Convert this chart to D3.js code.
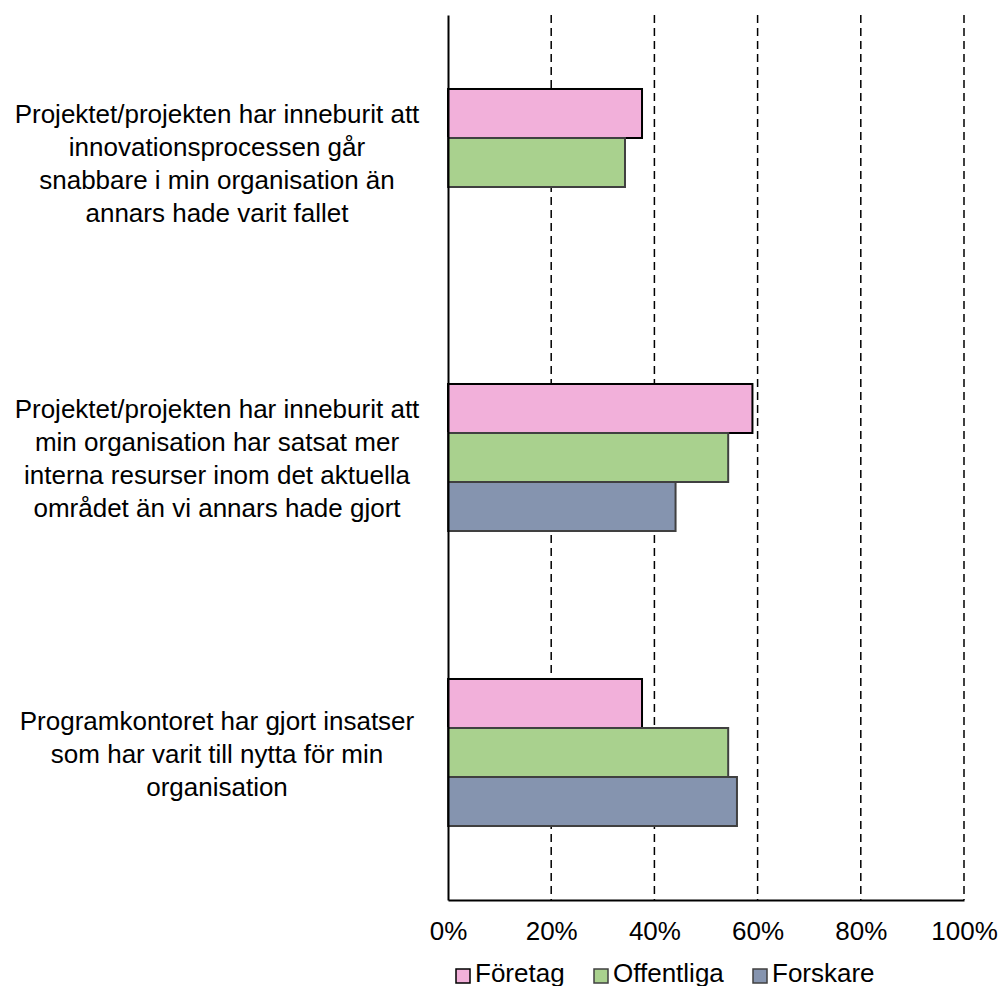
<!DOCTYPE html>
<html>
<head>
  <meta charset="UTF-8">
  <title>Horizontal grouped bars</title>
  <script src="https://d3js.org/d3.v7.min.js"></script>
  <style>
    body { margin: 0; background: #fff; }
    text { font-family: "Liberation Sans", Arial, sans-serif; fill: #000; }
  </style>
</head>
<body>
  <svg width="1002" height="986"></svg>

  <script>
    // Data
    const categories = [
      ["Projektet/projekten har inneburit att", "innovationsprocessen går", "snabbare i min organisation än", "annars hade varit fallet"],
      ["Projektet/projekten har inneburit att", "min organisation har satsat mer", "interna resurser inom det aktuella", "området än vi annars hade gjort"],
      ["Programkontoret har gjort insatser", "som har varit till nytta för min", "organisation"]
    ];
    const series = ["Företag", "Offentliga", "Forskare"];
    const foretag = [37.6, 59.0, 37.6];
    const offentliga = [34.3, 54.3, 54.3];
    const forskare = [null, 44.1, 56.0];
    const tickValues = [0, 20, 40, 60, 80, 100];

    const values = [foretag, offentliga, forskare];
    const colors = ["#f2b0da", "#a9d18e", "#8594af"];
    const strokes = ["#000000", "#404040", "#404040"];

    const plotLeft = 448, plotRight = 964, plotTop = 15, plotBottom = 900;

    const svg = d3.select("svg");

    const x = d3.scaleLinear().domain([0, 100]).range([plotLeft, plotRight]);
    const y0 = d3.scaleBand().domain(d3.range(categories.length)).range([plotTop, plotBottom]);
    const y1 = d3.scaleBand().domain(series).range([0, y0.bandwidth()]).paddingOuter(1.51);

    // Dashed gridlines
    svg.append("g")
      .selectAll("line")
      .data(tickValues.filter(d => d > 0))
      .join("line")
      .attr("x1", d => x(d)).attr("x2", d => x(d))
      .attr("y1", plotTop).attr("y2", plotBottom)
      .attr("stroke", "#000")
      .attr("stroke-width", 1.5)
      .attr("stroke-dasharray", "8,5");

    // Bars
    const groups = svg.append("g")
      .selectAll("g")
      .data(categories)
      .join("g")
      .attr("transform", (d, i) => `translate(0,${y0(i)})`);

    groups.each(function(d, i) {
      const g = d3.select(this);
      series.forEach((s, j) => {
        const v = values[j][i];
        if (v == null) return;
        g.append("rect")
          .attr("x", x(0))
          .attr("y", y1(s))
          .attr("width", x(v) - x(0))
          .attr("height", y1.bandwidth())
          .attr("fill", colors[j])
          .attr("stroke", strokes[j])
          .attr("stroke-width", 2);
      });
    });

    // Category labels
    groups.append("text")
      .attr("text-anchor", "middle")
      .style("font-size", "26px")
      .each(function(lines) {
        const t = d3.select(this);
        const lh = 33;
        const c = y0.bandwidth() / 2;
        const start = c - (lines.length - 1) * lh / 2 + 10;
        lines.forEach((l, k) => {
          t.append("tspan").attr("x", 217).attr("y", start + k * lh).text(l);
        });
      });

    // Axes
    const xAxis = d3.axisBottom(x)
      .tickValues(tickValues)
      .tickSize(0)
      .tickPadding(22)
      .tickFormat(d => d + "%");

    const ax = svg.append("g")
      .attr("transform", `translate(0,${plotBottom})`)
      .call(xAxis);
    ax.select(".domain").attr("stroke", "#000").attr("stroke-width", 2);
    ax.selectAll("text")
      .style("font-size", "26px")
      .style("font-family", "'Liberation Sans', Arial, sans-serif")
      .attr("fill", "#000");

    const yAxis = d3.axisLeft(y0).tickSize(0).tickFormat("");
    const ay = svg.append("g")
      .attr("transform", `translate(${plotLeft},0)`)
      .call(yAxis);
    ay.select(".domain").attr("stroke", "#000").attr("stroke-width", 2);

    // Legend
    const legendX = [456, 594, 753];
    const legend = svg.append("g")
      .selectAll("g")
      .data(series)
      .join("g")
      .attr("transform", (d, i) => `translate(${legendX[i]},969)`);
    legend.append("rect")
      .attr("width", 14).attr("height", 14)
      .attr("fill", (d, i) => colors[i])
      .attr("stroke", (d, i) => strokes[i])
      .attr("stroke-width", 1.5);
    legend.append("text")
      .attr("x", 19)
      .attr("y", 13)
      .style("font-size", "26px")
      .text(d => d);
  </script>
</body>
</html>
